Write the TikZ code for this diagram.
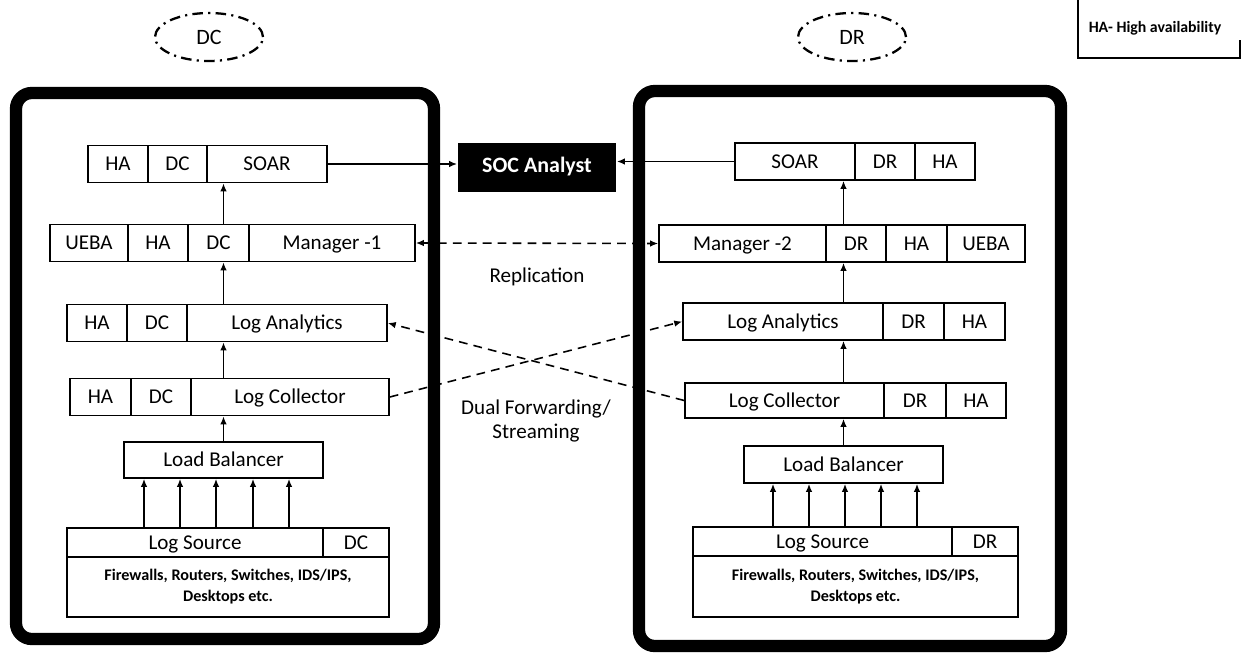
\documentclass[tikz,border=0pt]{standalone}
\usepackage{fontspec}
\setmainfont{Carlito}
\usetikzlibrary{arrows.meta,shapes.geometric}

\begin{document}
\begin{tikzpicture}[x=0.02cm,y=-0.02cm,
	cell/.style={draw,line width=0.9pt,inner sep=0pt,minimum height=0.74cm,text height=7.7pt,text depth=0pt,font=\fontsize{12}{14}\selectfont},
	devices/.style={cell,align=center,text height=,text depth=,font=\bfseries\fontsize{9.2}{12}\selectfont},
	site/.style={draw,ellipse,dash pattern=on 6pt off 3pt on 1.2pt off 3pt,line width=1.3pt,minimum width=2.16cm,minimum height=0.96cm,font=\fontsize{12.5}{14}\selectfont},
	frame/.style={line width=7pt,rounded corners=9pt},
	flow/.style={-{Latex[length=1.6mm,width=1.3mm]},line width=0.9pt},
	link/.style={flow,dash pattern=on 5pt off 3.5pt},
	font=\fontsize{12}{14}\selectfont]
\useasboundingbox (0,0) rectangle (1247,654);
\node[site] (dcSite) at (209,37) {DC};
\node[site] (drSite) at (852,37) {DR};
\node[font=\bfseries\fontsize{9}{11}\selectfont] (legend) at (1155,28) {HA- High availability};
\draw[line width=1pt] (1078,0) -- (1078,58) -- (1240,58) -- (1240,40);
\draw[frame] (16,93) rectangle (434,639);
\draw[frame] (639,91) rectangle (1061,646);
\node[fill=black,text=white,minimum width=3.18cm,minimum height=0.98cm,font=\bfseries\fontsize{12.5}{14}\selectfont] (soc) at (537,167) {SOC Analyst};
% DC side
\node[cell,minimum width=1.2cm] (dcSoarHA) at (118,164) {HA};
\node[cell,minimum width=1.18cm] (dcSoarDC) at (177.5,164) {DC};
\node[cell,minimum width=2.4cm] (dcSoar) at (267,164) {SOAR};
\node[cell,minimum width=1.56cm] (dcMgrUEBA) at (89,243) {UEBA};
\node[cell,minimum width=1.2cm] (dcMgrHA) at (158,243) {HA};
\node[cell,minimum width=1.22cm] (dcMgrDC) at (218.5,243) {DC};
\node[cell,minimum width=3.32cm] (dcMgr) at (332,243) {Manager -1};
\node[cell,minimum width=1.2cm] (dcAnaHA) at (97,323) {HA};
\node[cell,minimum width=1.2cm] (dcAnaDC) at (157,323) {DC};
\node[cell,minimum width=4cm] (dcAna) at (287,323) {Log Analytics};
\node[cell,minimum width=1.22cm] (dcCollHA) at (100.5,397) {HA};
\node[cell,minimum width=1.2cm] (dcCollDC) at (161,397) {DC};
\node[cell,minimum width=3.96cm] (dcColl) at (290,397) {Log Collector};
\node[cell,minimum width=3.98cm,minimum height=0.72cm] (dcLB) at (223.5,460) {Load Balancer};
\node[cell,minimum width=5.12cm,minimum height=0.58cm] (dcSrc) at (195,542.5) {Log Source};
\node[cell,minimum width=1.32cm,minimum height=0.58cm] (dcSrcDC) at (356,542.5) {DC};
\node[devices,minimum width=6.44cm,minimum height=1.2cm] (dcDev) at (228,587) {Firewalls, Routers, Switches, IDS/IPS,\\Desktops etc.};
% DR side
\node[cell,minimum width=2.4cm] (drSoar) at (795,161.5) {SOAR};
\node[cell,minimum width=1.2cm] (drSoarDR) at (885,161.5) {DR};
\node[cell,minimum width=1.2cm] (drSoarHA) at (945,161.5) {HA};
\node[cell,minimum width=3.34cm] (drMgr) at (742.5,243.5) {Manager -2};
\node[cell,minimum width=1.2cm] (drMgrDR) at (856,243.5) {DR};
\node[cell,minimum width=1.22cm] (drMgrHA) at (916.5,243.5) {HA};
\node[cell,minimum width=1.56cm] (drMgrUEBA) at (986,243.5) {UEBA};
\node[cell,minimum width=4cm] (drAna) at (783,321.5) {Log Analytics};
\node[cell,minimum width=1.22cm] (drAnaDR) at (913.5,321.5) {DR};
\node[cell,minimum width=1.22cm] (drAnaHA) at (974.5,321.5) {HA};
\node[cell,minimum width=3.98cm,minimum height=0.7cm] (drColl) at (784.5,400.5) {Log Collector};
\node[cell,minimum width=1.24cm,minimum height=0.7cm] (drCollDR) at (915,400.5) {DR};
\node[cell,minimum width=1.2cm,minimum height=0.7cm] (drCollHA) at (976,400.5) {HA};
\node[cell,minimum width=3.98cm] (drLB) at (843.5,464.5) {Load Balancer};
\node[cell,minimum width=5.18cm,minimum height=0.58cm] (drSrc) at (822.5,541.5) {Log Source};
\node[cell,minimum width=1.32cm,minimum height=0.58cm] (drSrcDR) at (985,541.5) {DR};
\node[devices,minimum width=6.5cm,minimum height=1.22cm] (drDev) at (855.5,586.5) {Firewalls, Routers, Switches, IDS/IPS,\\Desktops etc.};
% upward flows
\foreach \x in {144,180,216,253,289}
	\draw[flow] (dcSrc.north -| \x,0) -- (dcLB.south -| \x,0);
\foreach \x in {773,809,845,881,917}
	\draw[flow] (drSrc.north -| \x,0) -- (drLB.south -| \x,0);
\draw[flow] (dcLB.north) -- (dcLB.north |- dcColl.south);
\draw[flow] (dcLB.north |- dcColl.north) -- (dcLB.north |- dcAna.south);
\draw[flow] (dcLB.north |- dcAna.north) -- (dcLB.north |- dcMgr.south);
\draw[flow] (dcLB.north |- dcMgr.north) -- (dcLB.north |- dcSoar.south);
\draw[flow] (drLB.north) -- (drLB.north |- drColl.south);
\draw[flow] (drLB.north |- drColl.north) -- (drLB.north |- drAna.south);
\draw[flow] (drLB.north |- drAna.north) -- (drLB.north |- drMgr.south);
\draw[flow] (drLB.north |- drMgr.north) -- (drLB.north |- drSoar.south);
% links between sites
\draw[flow] (dcSoar.east) -- (dcSoar.east -| soc.west);
\draw[flow] (drSoar.west) -- (drSoar.west -| soc.east);
\draw[link,{Latex[length=1.6mm,width=1.3mm]}-{Latex[length=1.6mm,width=1.3mm]}] (dcMgr.east) -- node[below=0.35cm] (repl) {Replication} (drMgr.west);
\draw[link] (dcColl.east) -- (drAna.west);
\draw[link] (drColl.west) -- (dcAna.east);
\node[align=center] (dual) at (536,421) {Dual Forwarding/\\Streaming};
\end{tikzpicture}
\end{document}
